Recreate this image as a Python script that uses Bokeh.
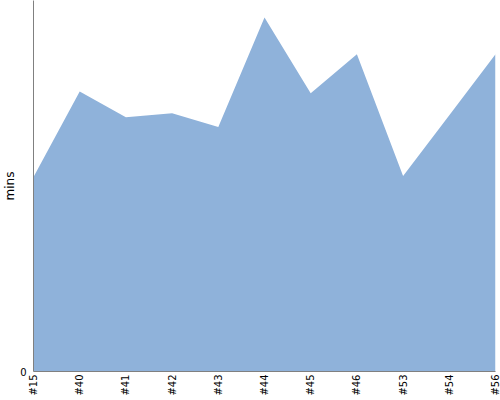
import math
from bokeh.plotting import figure
from bokeh.models import FixedTicker, Range1d
from bokeh.embed import file_html
from bokeh.resources import INLINE

builds = ["#15", "#40", "#41", "#42", "#43", "#44", "#45", "#46", "#53", "#54", "#56"]
minutes = [52.4, 75.5, 68.5, 69.6, 65.9, 95.4, 75.0, 85.5, 52.7, 69.1, 85.5]

xs = list(range(len(builds)))

FONT = "'DejaVu Sans'"

p = figure(width=500, height=398, output_backend="svg", toolbar_location=None,
           x_range=Range1d(0, len(builds) - 1), y_range=Range1d(0, 100),
           min_border_left=0, min_border_right=5, min_border_top=0, min_border_bottom=0)
p.outline_line_color = None
p.grid.visible = False

p.varea(x=xs, y1=[0] * len(xs), y2=minutes, fill_color="#8fb2da", fill_alpha=1.0)

p.xaxis.ticker = FixedTicker(ticks=xs)
p.xaxis.major_label_overrides = {i: b for i, b in enumerate(builds)}
p.xaxis.major_label_orientation = math.pi / 2
p.yaxis.ticker = FixedTicker(ticks=[0])
p.yaxis.axis_label = "mins"

for ax in (p.xaxis[0], p.yaxis[0]):
    ax.major_tick_line_color = None
    ax.minor_tick_line_color = None
    ax.major_tick_out = 0
    ax.major_tick_in = 0
    ax.minor_tick_out = 0
    ax.minor_tick_in = 0
    ax.axis_line_color = "#808080"
    ax.major_label_text_font = FONT
    ax.major_label_text_font_size = "10px"
    ax.major_label_text_color = "#000000"
p.xaxis.major_label_standoff = 3
p.yaxis.major_label_standoff = 7
p.yaxis.axis_label_text_font = FONT
p.yaxis.axis_label_text_font_size = "12px"
p.yaxis.axis_label_text_font_style = "normal"
p.yaxis.axis_label_text_color = "#000000"
p.yaxis.axis_label_standoff = 0

open("out.html", "w").write(file_html(p, INLINE))
